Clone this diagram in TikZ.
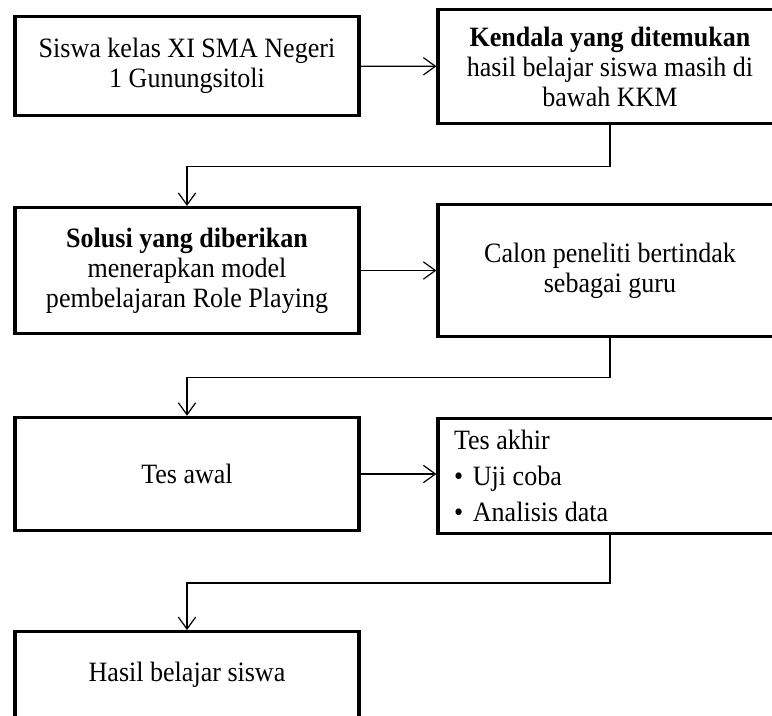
\documentclass[tikz,border=0pt]{standalone}
\usepackage{fontspec}
\setmainfont[FakeStretch=0.93]{Liberation Serif}
\usetikzlibrary{arrows.meta}
\begin{document}
\begin{tikzpicture}[x=0.75pt, y=-0.75pt,
    box/.style={draw, line width=2.4pt, minimum width=258pt, align=center, inner sep=0pt},
    arr/.style={line width=0.9pt, -{Straight Barb[length=9pt, width=13pt, line width=0.9pt]}},
    font=\fontsize{21}{22.5}\selectfont]
      \clip (0, 0) rectangle (772, 715);
      \node[box, minimum height=74pt] (siswa) at (187, 66) {Siswa kelas XI SMA Negeri\\1 Gunungsitoli};
      \node[box, minimum height=85.5pt] (kendala) at (610, 66.5) {\textbf{Kendala yang ditemukan}\\hasil belajar siswa masih di\\bawah KKM};
      \node[box, minimum height=94.5pt] (solusi) at (187, 270.5) {\textbf{Solusi yang diberikan}\\menerapkan model\\pembelajaran Role Playing};
      \node[box, minimum height=99pt] (calon) at (610, 270.5) {Calon peneliti bertindak\\sebagai guru};
      \node[box, minimum height=85pt] (awal) at (187, 474) {Tes awal};
      \node[box, minimum height=86pt, align=flush left, text width=234pt, inner xsep=12pt,
        font=\fontsize{21}{27}\selectfont] (akhir) at (610, 476) {Tes akhir\\•\hspace{0.35em}Uji coba\\•\hspace{0.35em}Analisis data};
      \node[box, minimum height=65pt] (hasil) at (187, 675) {Hasil belajar siswa};
      \draw[arr] (siswa) -- (kendala);
      \draw[arr] (kendala.south) -- ++(0, 41) -| (solusi.north);
      \draw[arr] (solusi) -- (calon);
      \draw[arr] (calon.south) -- ++(0, 39) -| (awal.north);
      \draw[arr] (awal.east) -- (awal.east -| akhir.west);
      \draw[arr] (akhir.south) -- ++(0, 48) -| (hasil.north);
    \end{tikzpicture}
\end{document}
